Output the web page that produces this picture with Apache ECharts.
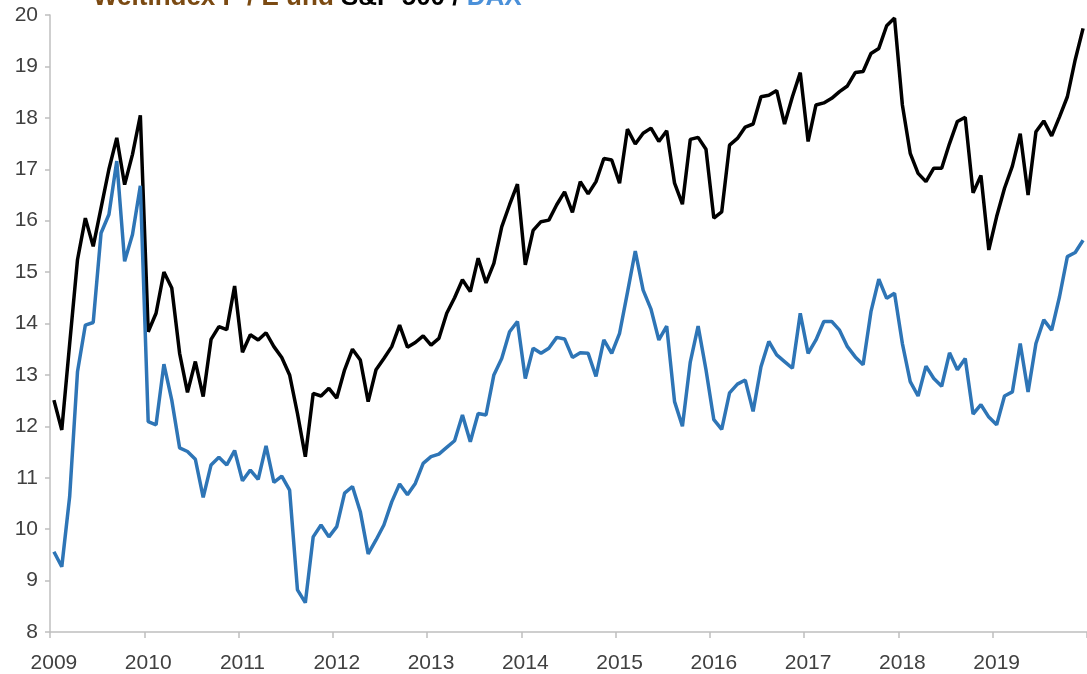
<!DOCTYPE html>
<html><head><meta charset="utf-8">
<script src="https://cdn.jsdelivr.net/npm/echarts@6/dist/echarts.min.js"></script>
<style>html,body{margin:0;padding:0;background:#fff}#c{width:1087px;height:674px}</style>
</head><body><div id="c"></div>
<script>
const years = ['2009','2010','2011','2012','2013','2014','2015','2016','2017','2018','2019'];
const monthNames = ['01','02','03','04','05','06','07','08','09','10','11','12'];
const categories = years.flatMap(y => monthNames.map(m => y + '-' + m));

// S&P 500 (black)
const sp500 = [
12.51,11.93,13.6,15.24,16.05,15.5,16.25,17.0,17.61,16.7,17.29,18.05,
13.84,14.2,15.0,14.69,13.42,12.66,13.26,12.58,13.69,13.94,13.88,14.73,
13.44,13.78,13.68,13.82,13.55,13.34,13.0,12.25,11.41,12.64,12.59,12.74,
12.55,13.1,13.5,13.29,12.48,13.1,13.32,13.55,13.97,13.54,13.63,13.76,
13.58,13.71,14.2,14.5,14.85,14.62,15.27,14.79,15.17,15.88,16.31,16.71,
15.14,15.81,15.98,16.01,16.31,16.56,16.16,16.76,16.52,16.76,17.21,17.18,
16.73,17.78,17.49,17.7,17.8,17.54,17.75,16.73,16.32,17.58,17.62,17.39,
16.05,16.17,17.47,17.6,17.82,17.88,18.41,18.44,18.53,17.88,18.41,18.88,
17.54,18.25,18.29,18.38,18.51,18.62,18.88,18.9,19.25,19.35,19.79,19.94,
18.25,17.31,16.92,16.76,17.02,17.02,17.5,17.93,18.01,16.54,16.88,15.43,
16.08,16.63,17.06,17.69,16.5,17.73,17.94,17.65,18.02,18.41,19.13,19.74
];
// DAX (blue)
const dax = [
9.56,9.27,10.63,13.06,13.97,14.02,15.76,16.12,17.16,15.21,15.73,16.68,
12.09,12.03,13.21,12.51,11.58,11.51,11.36,10.62,11.25,11.4,11.25,11.53,
10.94,11.15,10.97,11.62,10.91,11.03,10.76,8.82,8.57,9.85,10.08,9.85,
10.05,10.7,10.83,10.34,9.52,9.79,10.08,10.53,10.88,10.67,10.89,11.28,
11.41,11.46,11.59,11.72,12.22,11.7,12.25,12.22,13.0,13.32,13.84,14.04,
12.93,13.52,13.42,13.52,13.73,13.7,13.34,13.43,13.42,12.97,13.68,13.42,
13.81,14.6,15.41,14.65,14.28,13.68,13.95,12.48,12.0,13.25,13.95,13.1,
12.13,11.94,12.65,12.82,12.9,12.29,13.16,13.65,13.39,13.26,13.13,14.2,
13.42,13.68,14.04,14.04,13.87,13.55,13.35,13.2,14.23,14.86,14.49,14.59,
13.61,12.87,12.59,13.17,12.93,12.78,13.43,13.1,13.32,12.24,12.42,12.18,
12.03,12.59,12.67,13.61,12.67,13.61,14.07,13.87,14.52,15.3,15.38,15.62
];

const titleParts = ['Weltindex P / E und ', 'S&P 500 / ', 'DAX'];

const chart = echarts.init(document.getElementById('c'), null, {renderer: 'canvas'});
const axisColor = '#BFBFBF';
const labelColor = '#404040';
const font = 'Liberation Sans, Arial, sans-serif';
chart.setOption({
  animation: false,
  backgroundColor: '#fff',
  title: {
    left: 88, top: -20,
    text: '{a|' + titleParts[0] + '}{b|' + titleParts[1] + '}{c|' + titleParts[2] + '}',
    textStyle: {
      rich: {
        a: {color: '#7B4A12', fontSize: 26, fontWeight: 'bold', fontFamily: font},
        b: {color: '#000000', fontSize: 26, fontWeight: 'bold', fontFamily: font},
        c: {color: '#4A90D9', fontSize: 26, fontWeight: 'bold', fontFamily: font}
      }
    }
  },
  grid: {left: 50, right: -4, top: 15, bottom: 42, containLabel: false},
  xAxis: {
    type: 'category',
    data: categories,
    boundaryGap: true,
    axisLine: {show: true, lineStyle: {color: axisColor, width: 1.5}},
    axisTick: {show: true, interval: 11, length: 6, lineStyle: {color: axisColor, width: 1.5}},
    axisLabel: {interval: 11, margin: 21, color: labelColor, fontSize: 21, fontFamily: font,
      formatter: v => v.slice(0, 4)},
    splitLine: {show: false}
  },
  yAxis: {
    type: 'value', min: 8, max: 20, interval: 1,
    axisLine: {show: true, lineStyle: {color: axisColor, width: 1.5}},
    axisTick: {show: true, length: 5, lineStyle: {color: axisColor, width: 1.5}},
    axisLabel: {margin: 12, color: labelColor, fontSize: 21, fontFamily: font},
    splitLine: {show: false}
  },
  series: [
    {name: 'S&P 500', type: 'line', data: sp500, showSymbol: false, symbol: 'none',
      lineStyle: {color: '#000000', width: 3.5}, itemStyle: {color: '#000000'}},
    {name: 'DAX', type: 'line', data: dax, showSymbol: false, symbol: 'none',
      lineStyle: {color: '#2E75B6', width: 3.5}, itemStyle: {color: '#2E75B6'}}
  ]
});
</script>
</body></html>
